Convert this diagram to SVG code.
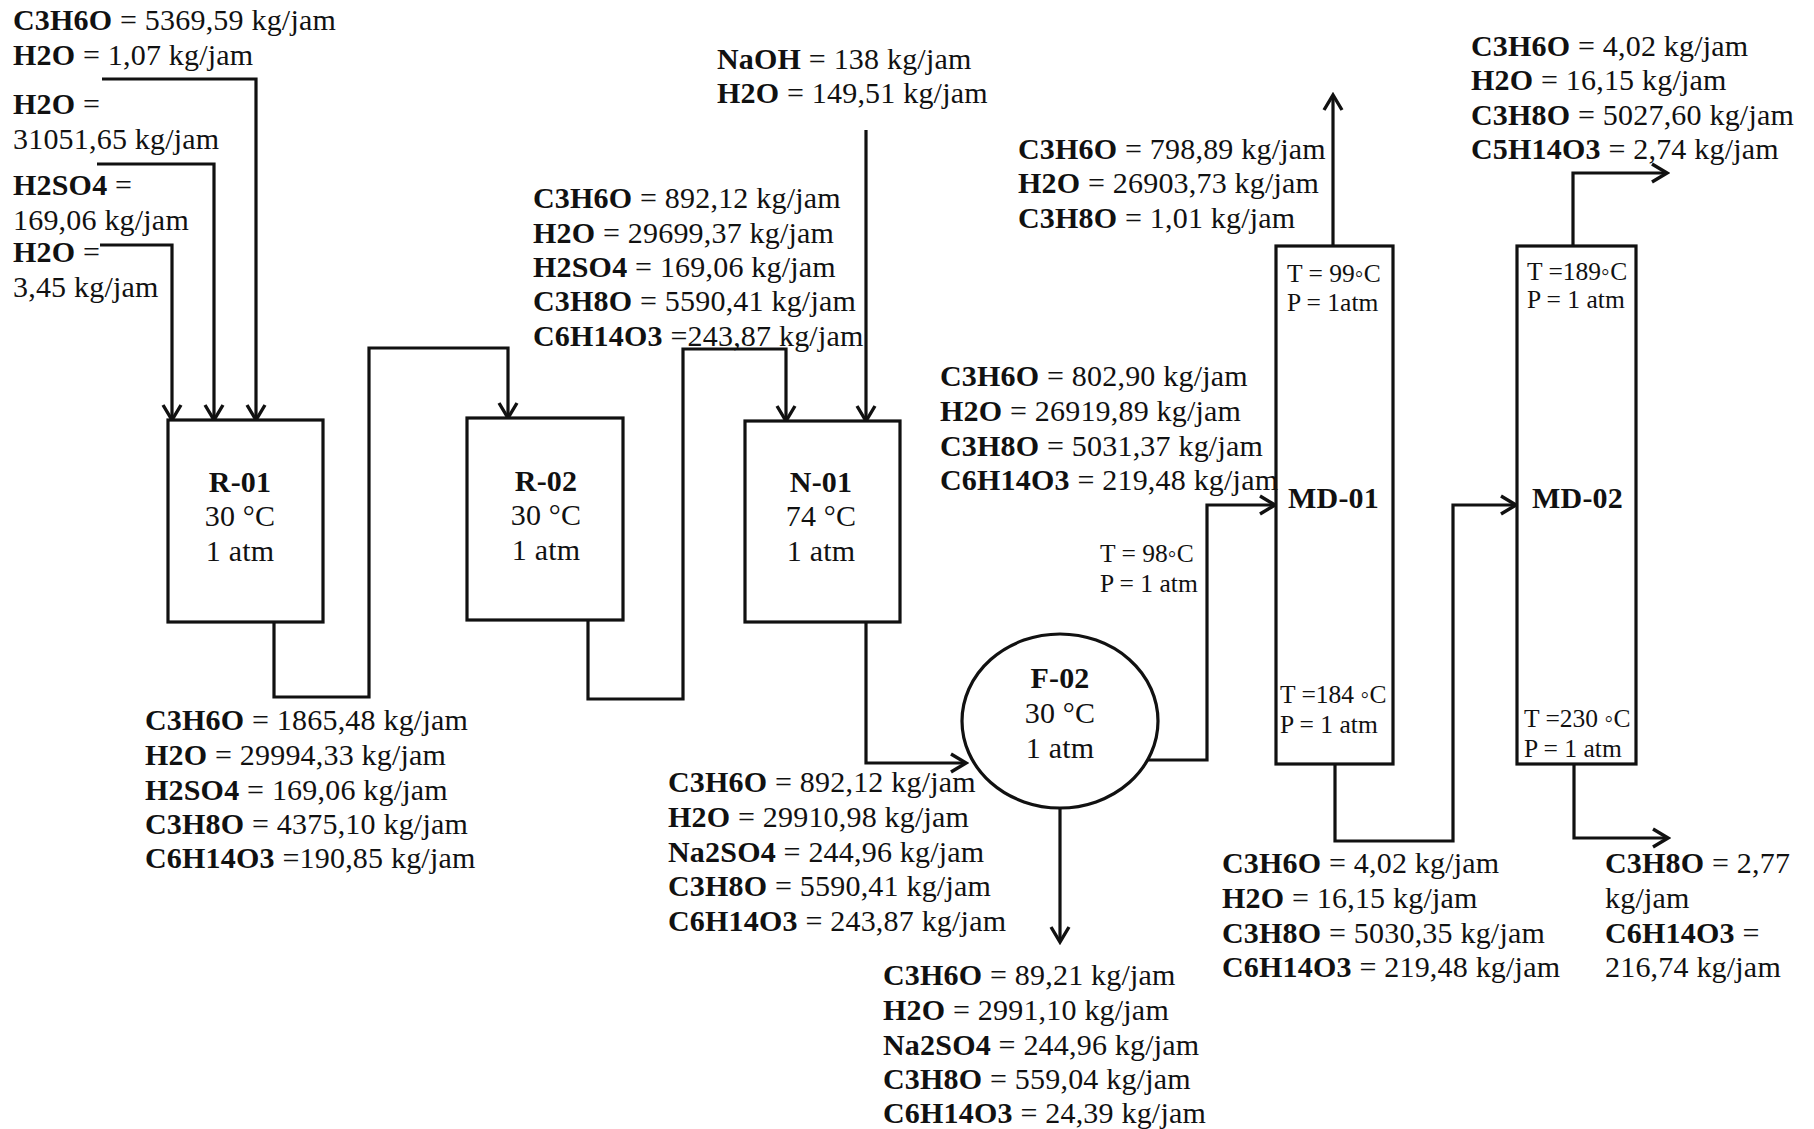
<svg xmlns="http://www.w3.org/2000/svg" width="1814" height="1129" viewBox="0 0 1814 1129">
<style>
text{font-family:"Liberation Serif","DejaVu Serif",serif;font-size:30px;letter-spacing:0.2px;fill:#111}
.b{font-weight:bold}
.s{font-size:25.5px;letter-spacing:0}
.c{text-anchor:middle}
.eq{fill:#fff;stroke:#111;stroke-width:3.2}
.ln{fill:none;stroke:#111;stroke-width:3.2}
</style>
<defs>
<marker id="ar" markerUnits="userSpaceOnUse" viewBox="0 0 20 22" refX="17" refY="11" markerWidth="20" markerHeight="22" orient="auto">
<path d="M2,2 L17,11 L2,20" fill="none" stroke="#111" stroke-width="3.4"/>
</marker>
</defs>
<rect width="1814" height="1129" fill="#fff"/>

<g id="connectors" class="ln">
<path d="M102,79 H256 V420" marker-end="url(#ar)"/>
<path d="M97,164 H214 V420" marker-end="url(#ar)"/>
<path d="M100,245 H172 V420" marker-end="url(#ar)"/>
<path d="M274,622 V697 H369 V348 H508 V418" marker-end="url(#ar)"/>
<path d="M588,620 V699 H683 V349 H786 V421" marker-end="url(#ar)"/>
<path d="M866,130 V421" marker-end="url(#ar)"/>
<path d="M866,622 V763 H966" marker-end="url(#ar)"/>
<path d="M1060,808 V942" marker-end="url(#ar)"/>
<path d="M1148,760 H1207 V505 H1275" marker-end="url(#ar)"/>
<path d="M1333,246 V95" marker-end="url(#ar)"/>
<path d="M1335,764 V841 H1453 V505 H1516" marker-end="url(#ar)"/>
<path d="M1573,246 V173 H1667" marker-end="url(#ar)"/>
<path d="M1574,764 V838 H1668" marker-end="url(#ar)"/>
</g>

<g id="R-01">
<rect class="eq" x="168" y="420" width="155" height="202"/>
<text class="b c" x="240" y="492">R-01</text>
<text class="c" x="240" y="526">30 °C</text>
<text class="c" x="240" y="561">1 atm</text>
</g>
<g id="R-02">
<rect class="eq" x="467" y="418" width="156" height="202"/>
<text class="b c" x="546" y="491">R-02</text>
<text class="c" x="546" y="525">30 °C</text>
<text class="c" x="546" y="560">1 atm</text>
</g>
<g id="N-01">
<rect class="eq" x="745" y="421" width="155" height="201"/>
<text class="b c" x="821" y="492">N-01</text>
<text class="c" x="821" y="526">74 °C</text>
<text class="c" x="821" y="561">1 atm</text>
</g>
<g id="F-02">
<ellipse class="eq" cx="1060" cy="721" rx="98" ry="87"/>
<text class="b c" x="1060" y="688">F-02</text>
<text class="c" x="1060" y="723">30 °C</text>
<text class="c" x="1060" y="758">1 atm</text>
</g>
<g id="MD-01">
<rect class="eq" x="1276" y="246" width="117" height="518"/>
<text class="s" x="1287" y="282">T = 99◦C</text>
<text class="s" x="1287" y="311">P = 1atm</text>
<text class="b" x="1288" y="508">MD-01</text>
<text class="s" x="1280" y="703">T =184 ◦C</text>
<text class="s" x="1280" y="733">P = 1 atm</text>
</g>
<g id="MD-02">
<rect class="eq" x="1517" y="246" width="119" height="518"/>
<text class="s" x="1527" y="280">T =189◦C</text>
<text class="s" x="1527" y="308">P = 1 atm</text>
<text class="b" x="1532" y="508">MD-02</text>
<text class="s" x="1524" y="727">T =230 ◦C</text>
<text class="s" x="1524" y="757">P = 1 atm</text>
</g>

<g id="stream-feed-R01">
<text x="13" y="30"><tspan class="b">C3H6O</tspan> = 5369,59 kg/jam</text>
<text x="13" y="65"><tspan class="b">H2O</tspan> = 1,07 kg/jam</text>
<text x="13" y="114"><tspan class="b">H2O</tspan> =</text>
<text x="13" y="149">31051,65 kg/jam</text>
<text x="13" y="195"><tspan class="b">H2SO4</tspan> =</text>
<text x="13" y="230">169,06 kg/jam</text>
<text x="13" y="262"><tspan class="b">H2O</tspan> =</text>
<text x="13" y="297">3,45 kg/jam</text>
</g>
<g id="stream-R01-out">
<text x="145" y="730"><tspan class="b">C3H6O</tspan> = 1865,48 kg/jam</text>
<text x="145" y="765"><tspan class="b">H2O</tspan> = 29994,33 kg/jam</text>
<text x="145" y="800"><tspan class="b">H2SO4</tspan> = 169,06 kg/jam</text>
<text x="145" y="834"><tspan class="b">C3H8O</tspan> = 4375,10 kg/jam</text>
<text x="145" y="868"><tspan class="b">C6H14O3</tspan> =190,85 kg/jam</text>
</g>
<g id="stream-R02-out">
<text x="533" y="208"><tspan class="b">C3H6O</tspan> = 892,12 kg/jam</text>
<text x="533" y="243"><tspan class="b">H2O</tspan> = 29699,37 kg/jam</text>
<text x="533" y="277"><tspan class="b">H2SO4</tspan> = 169,06 kg/jam</text>
<text x="533" y="311"><tspan class="b">C3H8O</tspan> = 5590,41 kg/jam</text>
<text x="533" y="346"><tspan class="b">C6H14O3</tspan> =243,87 kg/jam</text>
</g>
<g id="stream-NaOH">
<text x="717" y="69"><tspan class="b">NaOH</tspan> = 138 kg/jam</text>
<text x="717" y="103"><tspan class="b">H2O</tspan> = 149,51 kg/jam</text>
</g>
<g id="stream-N01-out">
<text x="668" y="792"><tspan class="b">C3H6O</tspan> = 892,12 kg/jam</text>
<text x="668" y="827"><tspan class="b">H2O</tspan> = 29910,98 kg/jam</text>
<text x="668" y="862"><tspan class="b">Na2SO4</tspan> = 244,96 kg/jam</text>
<text x="668" y="896"><tspan class="b">C3H8O</tspan> = 5590,41 kg/jam</text>
<text x="668" y="931"><tspan class="b">C6H14O3</tspan> = 243,87 kg/jam</text>
</g>
<g id="stream-F02-bottom">
<text x="883" y="985"><tspan class="b">C3H6O</tspan> = 89,21 kg/jam</text>
<text x="883" y="1020"><tspan class="b">H2O</tspan> = 2991,10 kg/jam</text>
<text x="883" y="1055"><tspan class="b">Na2SO4</tspan> = 244,96 kg/jam</text>
<text x="883" y="1089"><tspan class="b">C3H8O</tspan> = 559,04 kg/jam</text>
<text x="883" y="1123"><tspan class="b">C6H14O3</tspan> = 24,39 kg/jam</text>
</g>
<g id="stream-MD01-feed">
<text x="940" y="386"><tspan class="b">C3H6O</tspan> = 802,90 kg/jam</text>
<text x="940" y="421"><tspan class="b">H2O</tspan> = 26919,89 kg/jam</text>
<text x="940" y="456"><tspan class="b">C3H8O</tspan> = 5031,37 kg/jam</text>
<text x="940" y="490"><tspan class="b">C6H14O3</tspan> = 219,48 kg/jam</text>
<text class="s" x="1100" y="562">T = 98◦C</text>
<text class="s" x="1100" y="592">P = 1 atm</text>
</g>
<g id="stream-MD01-top">
<text x="1018" y="159"><tspan class="b">C3H6O</tspan> = 798,89 kg/jam</text>
<text x="1018" y="193"><tspan class="b">H2O</tspan> = 26903,73 kg/jam</text>
<text x="1018" y="228"><tspan class="b">C3H8O</tspan> = 1,01 kg/jam</text>
</g>
<g id="stream-MD01-bottom">
<text x="1222" y="873"><tspan class="b">C3H6O</tspan> = 4,02 kg/jam</text>
<text x="1222" y="908"><tspan class="b">H2O</tspan> = 16,15 kg/jam</text>
<text x="1222" y="943"><tspan class="b">C3H8O</tspan> = 5030,35 kg/jam</text>
<text x="1222" y="977"><tspan class="b">C6H14O3</tspan> = 219,48 kg/jam</text>
</g>
<g id="stream-MD02-top">
<text x="1471" y="56"><tspan class="b">C3H6O</tspan> = 4,02 kg/jam</text>
<text x="1471" y="90"><tspan class="b">H2O</tspan> = 16,15 kg/jam</text>
<text x="1471" y="125"><tspan class="b">C3H8O</tspan> = 5027,60 kg/jam</text>
<text x="1471" y="159"><tspan class="b">C5H14O3</tspan> = 2,74 kg/jam</text>
</g>
<g id="stream-MD02-bottom">
<text x="1605" y="873"><tspan class="b">C3H8O</tspan> = 2,77</text>
<text x="1605" y="908">kg/jam</text>
<text x="1605" y="943"><tspan class="b">C6H14O3</tspan> =</text>
<text x="1605" y="977">216,74 kg/jam</text>
</g>
</svg>
